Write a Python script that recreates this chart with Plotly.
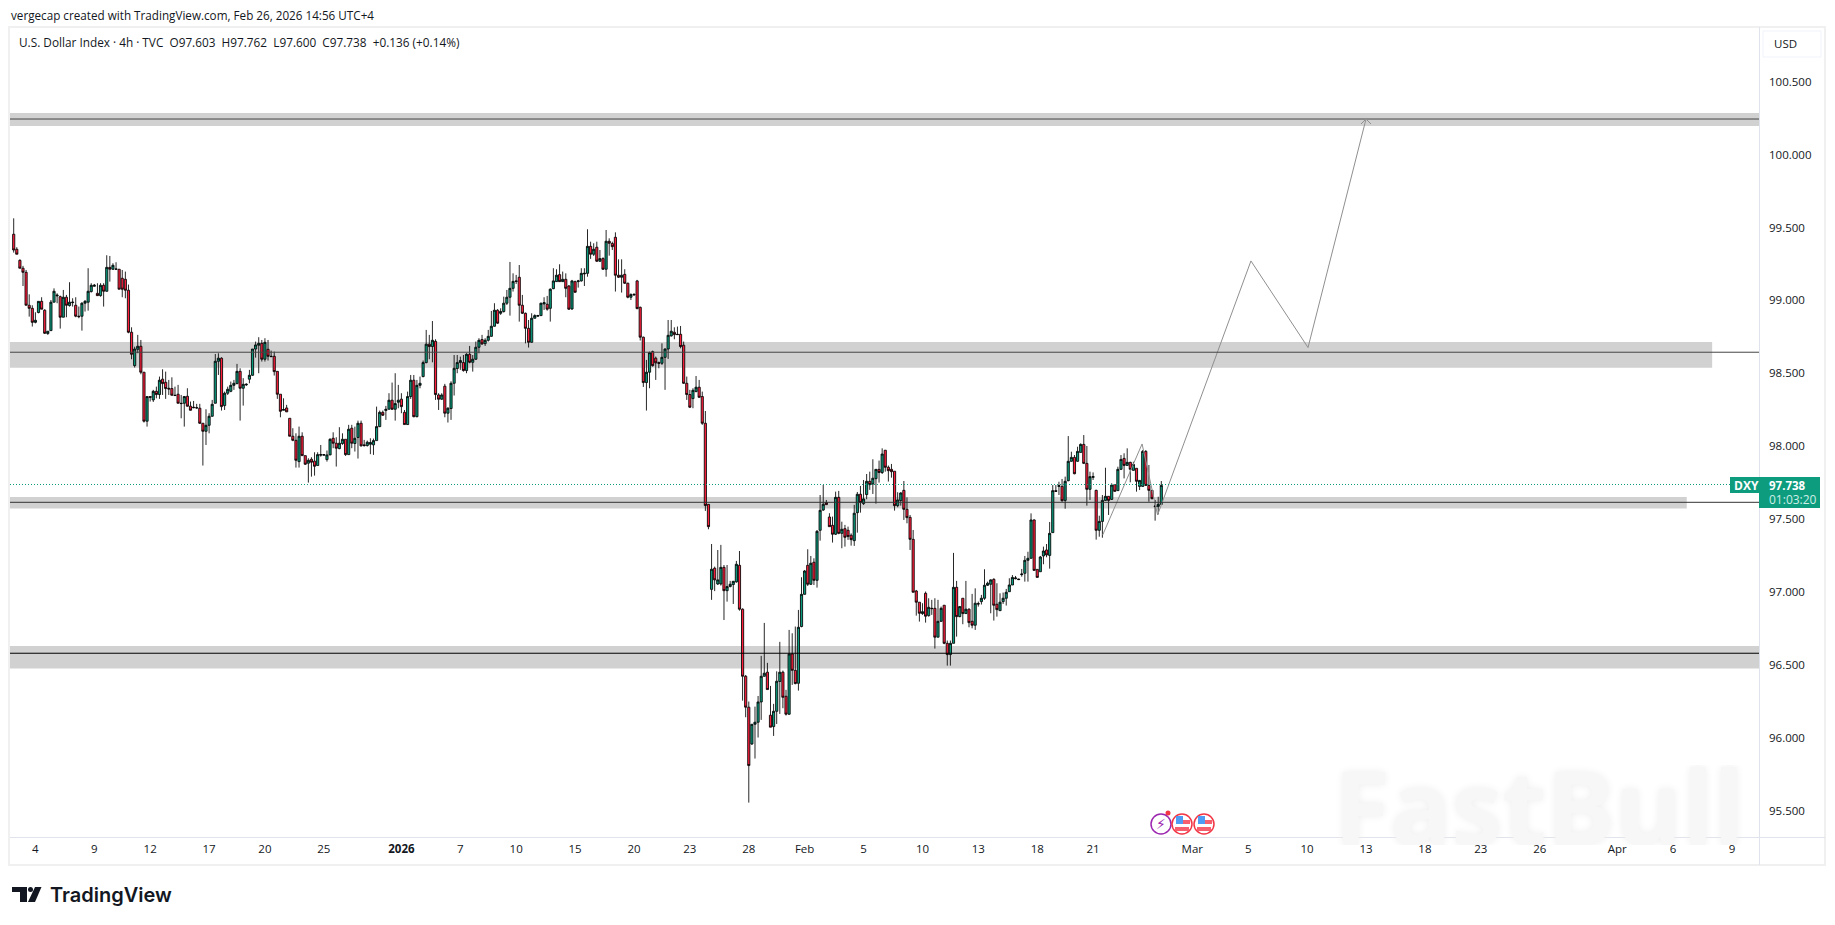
import plotly.graph_objects as go

W = 1835
H = 925

# 4h candles, oldest first
opens = [
    99.454, 99.351, 99.275, 99.221, 99.193, 98.967, 98.946, 98.850, 98.917, 98.994,
    98.933, 98.773, 98.793, 98.988, 99.031, 99.026, 98.885, 99.022, 98.965, 98.985,
    98.967, 98.892, 98.892, 98.981, 98.988, 99.061, 99.097, 99.049, 99.033, 99.104,
    99.063, 99.227, 99.214, 99.216, 99.214, 99.152, 99.145, 99.070, 98.782, 98.553,
    98.665, 98.686, 98.508, 98.172, 98.341, 98.318, 98.377, 98.355, 98.460, 98.439,
    98.398, 98.396, 98.350, 98.357, 98.295, 98.295, 98.343, 98.275, 98.268, 98.265,
    98.261, 98.158, 98.103, 98.144, 98.206, 98.295, 98.583, 98.604, 98.279, 98.364,
    98.377, 98.418, 98.430, 98.514, 98.398, 98.421, 98.460, 98.487, 98.667, 98.693,
    98.706, 98.597, 98.665, 98.617, 98.617, 98.514, 98.357, 98.247, 98.263, 98.192,
    98.069, 98.041, 97.895, 98.069, 97.936, 97.884, 97.911, 97.898, 97.868, 97.939,
    97.939, 97.909, 97.941, 98.055, 98.021, 97.984, 98.019, 98.048, 97.943, 98.124,
    98.019, 98.060, 98.158, 98.010, 98.005, 98.014, 98.010, 98.039, 98.135, 98.233,
    98.245, 98.254, 98.316, 98.254, 98.302, 98.323, 98.233, 98.149, 98.341, 98.453,
    98.203, 98.418, 98.478, 98.574, 98.700, 98.684, 98.720, 98.352, 98.323, 98.412,
    98.227, 98.259, 98.432, 98.533, 98.574, 98.574, 98.519, 98.631, 98.576, 98.597,
    98.679, 98.732, 98.704, 98.727, 98.754, 98.823, 98.933, 98.912, 98.924, 98.981,
    99.022, 99.083, 99.134, 99.159, 98.967, 98.912, 98.809, 98.713, 98.878, 98.892,
    98.896, 98.976, 98.974, 98.946, 99.081, 99.129, 99.177, 99.129, 99.145, 99.099,
    98.942, 99.129, 99.129, 99.134, 99.182, 99.186, 99.371, 99.317, 99.365, 99.269,
    99.287, 99.214, 99.406, 99.390, 99.433, 99.173, 99.159, 99.179, 99.118, 99.022,
    99.038, 99.134, 98.953, 98.748, 98.437, 98.508, 98.649, 98.604, 98.574, 98.569,
    98.610, 98.667, 98.757, 98.782, 98.768, 98.768, 98.693, 98.432, 98.355, 98.327,
    98.375, 98.405, 98.341, 98.158, 97.602, 97.019, 97.164, 97.056, 97.056, 97.170,
    97.010, 97.038, 97.052, 97.070, 97.184, 96.883, 96.423, 96.211, 95.959, 96.094,
    96.108, 96.247, 96.423, 96.451, 96.156, 96.078, 96.183, 96.387, 96.451, 96.286,
    96.163, 96.576, 96.464, 96.375, 96.764, 96.985, 97.184, 97.054, 97.205, 97.081,
    97.424, 97.563, 97.614, 97.515, 97.458, 97.397, 97.650, 97.403, 97.435, 97.424,
    97.390, 97.353, 97.545, 97.671, 97.607, 97.669, 97.760, 97.742, 97.778, 97.842,
    97.820, 97.973, 97.856, 97.842, 97.829, 97.593, 97.628, 97.698, 97.568, 97.513,
    97.362, 97.008, 96.931, 96.853, 96.992, 96.839, 96.889, 96.889, 96.691, 96.800,
    96.910, 96.649, 96.572, 96.649, 97.033, 96.832, 96.958, 96.853, 96.883, 96.800,
    96.773, 96.921, 96.935, 96.958, 97.047, 97.054, 97.088, 96.917, 96.873, 96.935,
    96.958, 97.003, 97.049, 97.092, 97.090, 97.120, 97.129, 97.218, 97.232, 97.495,
    97.156, 97.140, 97.248, 97.289, 97.252, 97.408, 97.696, 97.725, 97.725, 97.629,
    97.764, 97.897, 97.924, 97.897, 97.958, 98.013, 97.883, 97.705, 97.787, 97.698,
    97.424, 97.485, 97.629, 97.657, 97.636, 97.737, 97.696, 97.842, 97.917, 97.869,
    97.890, 97.835, 97.849, 97.725, 97.725, 97.965, 97.732, 97.698, 97.586, 97.588,
    97.602,
]
highs = [
    99.563, 99.365, 99.282, 99.237, 99.209, 99.042, 98.967, 98.919, 98.994, 99.022,
    98.940, 98.789, 99.003, 99.083, 99.049, 99.033, 99.072, 99.038, 99.125, 99.015,
    99.022, 98.958, 98.988, 99.003, 99.221, 99.118, 99.113, 99.118, 99.118, 99.118,
    99.310, 99.305, 99.255, 99.262, 99.214, 99.209, 99.198, 99.109, 98.816, 98.683,
    98.764, 98.729, 98.508, 98.341, 98.341, 98.387, 98.409, 98.478, 98.528, 98.512,
    98.455, 98.473, 98.409, 98.421, 98.352, 98.345, 98.398, 98.307, 98.311, 98.291,
    98.291, 98.158, 98.254, 98.227, 98.318, 98.633, 98.638, 98.610, 98.375, 98.409,
    98.444, 98.455, 98.565, 98.535, 98.467, 98.432, 98.524, 98.667, 98.718, 98.748,
    98.729, 98.741, 98.729, 98.656, 98.649, 98.514, 98.357, 98.329, 98.284, 98.192,
    98.124, 98.089, 98.135, 98.096, 97.936, 97.918, 97.925, 97.959, 97.959, 98.009,
    97.943, 97.971, 98.055, 98.096, 98.062, 98.131, 98.089, 98.048, 98.147, 98.147,
    98.135, 98.176, 98.176, 98.044, 98.039, 98.055, 98.053, 98.272, 98.245, 98.245,
    98.277, 98.364, 98.437, 98.501, 98.421, 98.364, 98.249, 98.375, 98.489, 98.489,
    98.455, 98.478, 98.588, 98.798, 98.764, 98.859, 98.734, 98.364, 98.364, 98.428,
    98.268, 98.446, 98.626, 98.626, 98.615, 98.626, 98.638, 98.688, 98.626, 98.718,
    98.741, 98.764, 98.741, 98.798, 98.928, 98.981, 98.940, 98.946, 99.026, 99.072,
    99.264, 99.186, 99.175, 99.243, 99.038, 98.917, 98.866, 98.912, 98.905, 98.901,
    98.985, 99.022, 99.031, 99.083, 99.221, 99.214, 99.248, 99.198, 99.186, 99.106,
    99.141, 99.136, 99.141, 99.221, 99.221, 99.488, 99.403, 99.392, 99.403, 99.346,
    99.296, 99.483, 99.426, 99.403, 99.467, 99.282, 99.282, 99.214, 99.122, 99.049,
    99.047, 99.141, 98.958, 98.752, 98.592, 98.649, 98.656, 98.615, 98.581, 98.706,
    98.672, 98.866, 98.866, 98.816, 98.821, 98.825, 98.718, 98.478, 98.387, 98.398,
    98.482, 98.455, 98.375, 98.242, 97.603, 97.330, 97.175, 97.289, 97.324, 97.186,
    97.186, 97.077, 97.077, 97.214, 97.282, 96.889, 96.432, 96.250, 96.094, 96.215,
    96.288, 96.563, 96.789, 96.515, 96.357, 96.234, 96.457, 96.659, 96.462, 96.330,
    96.741, 96.718, 96.764, 96.878, 97.102, 97.152, 97.294, 97.248, 97.232, 97.426,
    97.666, 97.735, 97.632, 97.541, 97.518, 97.689, 97.694, 97.483, 97.461, 97.449,
    97.403, 97.598, 97.687, 97.728, 97.769, 97.810, 97.826, 97.911, 97.842, 97.902,
    97.986, 97.973, 97.868, 97.879, 97.829, 97.685, 97.685, 97.762, 97.650, 97.529,
    97.426, 97.015, 96.931, 96.924, 97.004, 96.958, 96.947, 96.958, 96.947, 96.901,
    96.910, 96.668, 96.668, 97.269, 97.077, 96.905, 96.958, 97.077, 96.889, 96.988,
    97.026, 96.935, 96.981, 97.157, 97.072, 97.088, 97.095, 97.061, 96.992, 96.997,
    97.022, 97.095, 97.117, 97.111, 97.092, 97.159, 97.248, 97.277, 97.540, 97.499,
    97.156, 97.248, 97.312, 97.330, 97.481, 97.734, 97.734, 97.757, 97.776, 97.792,
    98.070, 97.963, 97.940, 97.997, 98.020, 98.077, 98.002, 97.826, 97.821, 97.702,
    97.524, 97.666, 97.853, 97.657, 97.746, 97.737, 97.860, 97.940, 97.952, 97.986,
    97.894, 97.894, 97.849, 97.769, 97.974, 97.974, 97.872, 97.700, 97.632, 97.654,
    97.762,
]
lows = [
    99.328, 99.317, 99.221, 99.099, 98.967, 98.889, 98.821, 98.843, 98.912, 98.940,
    98.770, 98.764, 98.793, 98.988, 98.981, 98.807, 98.885, 98.885, 98.958, 98.958,
    98.885, 98.878, 98.793, 98.924, 98.930, 99.054, 99.095, 99.031, 99.026, 98.958,
    99.061, 99.129, 99.209, 99.214, 99.077, 99.022, 99.015, 98.775, 98.597, 98.540,
    98.638, 98.494, 98.163, 98.135, 98.307, 98.304, 98.329, 98.325, 98.352, 98.325,
    98.352, 98.348, 98.348, 98.295, 98.192, 98.135, 98.272, 98.245, 98.261, 98.259,
    98.153, 97.868, 98.009, 98.089, 98.203, 98.295, 98.489, 98.245, 98.249, 98.352,
    98.371, 98.387, 98.425, 98.176, 98.279, 98.414, 98.432, 98.483, 98.608, 98.501,
    98.581, 98.581, 98.588, 98.615, 98.485, 98.325, 98.199, 98.247, 98.236, 98.069,
    98.035, 97.854, 97.854, 97.936, 97.872, 97.751, 97.792, 97.799, 97.868, 97.929,
    97.936, 97.895, 97.939, 97.987, 97.861, 97.980, 98.010, 97.934, 97.941, 97.987,
    97.964, 97.916, 97.998, 97.998, 97.998, 97.946, 97.941, 98.039, 98.131, 98.208,
    98.181, 98.254, 98.249, 98.176, 98.261, 98.227, 98.149, 98.147, 98.325, 98.199,
    98.199, 98.398, 98.473, 98.569, 98.597, 98.576, 98.318, 98.249, 98.318, 98.199,
    98.163, 98.181, 98.348, 98.501, 98.524, 98.512, 98.501, 98.569, 98.512, 98.592,
    98.638, 98.695, 98.688, 98.718, 98.752, 98.821, 98.839, 98.901, 98.917, 98.969,
    98.896, 99.061, 99.113, 98.855, 98.907, 98.706, 98.677, 98.711, 98.876, 98.889,
    98.894, 98.935, 98.930, 98.855, 99.077, 99.127, 99.127, 99.127, 99.022, 98.935,
    98.935, 99.054, 99.088, 99.129, 99.099, 99.163, 99.285, 99.305, 99.264, 99.264,
    99.209, 99.163, 99.307, 99.346, 99.061, 99.154, 99.054, 99.113, 99.015, 99.003,
    99.031, 98.940, 98.725, 98.407, 98.245, 98.398, 98.546, 98.455, 98.535, 98.558,
    98.387, 98.599, 98.752, 98.734, 98.764, 98.672, 98.428, 98.318, 98.263, 98.261,
    98.371, 98.332, 98.147, 97.557, 97.431, 96.947, 97.007, 97.049, 97.045, 96.809,
    96.935, 97.033, 96.919, 97.065, 96.873, 96.256, 96.142, 95.557, 95.952, 95.859,
    96.003, 96.124, 96.421, 96.332, 96.074, 96.014, 96.096, 96.165, 96.204, 96.154,
    96.158, 96.364, 96.368, 96.325, 96.759, 96.983, 97.042, 97.049, 97.049, 97.031,
    97.353, 97.557, 97.600, 97.449, 97.340, 97.392, 97.397, 97.301, 97.312, 97.358,
    97.319, 97.317, 97.408, 97.545, 97.598, 97.637, 97.701, 97.673, 97.607, 97.751,
    97.810, 97.826, 97.758, 97.785, 97.559, 97.582, 97.593, 97.495, 97.472, 97.289,
    96.999, 96.839, 96.798, 96.844, 96.791, 96.832, 96.844, 96.613, 96.691, 96.796,
    96.643, 96.496, 96.496, 96.649, 96.695, 96.828, 96.780, 96.851, 96.759, 96.752,
    96.741, 96.901, 96.915, 96.947, 97.042, 96.855, 96.805, 96.832, 96.871, 96.919,
    96.908, 97.003, 97.049, 97.088, 97.083, 97.106, 97.072, 97.072, 97.232, 97.149,
    97.101, 97.140, 97.191, 97.239, 97.161, 97.408, 97.691, 97.666, 97.620, 97.572,
    97.760, 97.894, 97.808, 97.894, 97.958, 97.878, 97.593, 97.632, 97.769, 97.360,
    97.380, 97.373, 97.632, 97.529, 97.632, 97.689, 97.696, 97.837, 97.780, 97.867,
    97.753, 97.833, 97.689, 97.700, 97.723, 97.728, 97.620, 97.636, 97.490, 97.533,
    97.600,
]
closes = [
    99.346, 99.317, 99.221, 99.193, 98.967, 98.946, 98.850, 98.864, 98.994, 98.940,
    98.775, 98.789, 98.988, 99.063, 99.036, 98.885, 99.022, 98.967, 98.988, 98.988,
    98.892, 98.889, 98.981, 98.994, 99.063, 99.104, 99.104, 99.033, 99.104, 99.063,
    99.227, 99.214, 99.241, 99.214, 99.077, 99.077, 99.070, 98.782, 98.631, 98.667,
    98.686, 98.508, 98.172, 98.341, 98.336, 98.377, 98.355, 98.453, 98.430, 98.396,
    98.393, 98.350, 98.348, 98.295, 98.293, 98.341, 98.275, 98.247, 98.265, 98.263,
    98.158, 98.103, 98.144, 98.206, 98.288, 98.583, 98.604, 98.272, 98.364, 98.391,
    98.418, 98.432, 98.514, 98.398, 98.425, 98.425, 98.487, 98.667, 98.695, 98.706,
    98.597, 98.713, 98.617, 98.615, 98.512, 98.357, 98.240, 98.252, 98.236, 98.069,
    98.041, 97.904, 98.069, 97.936, 97.877, 97.904, 97.891, 97.863, 97.943, 97.943,
    97.943, 97.941, 98.048, 98.021, 97.987, 98.021, 98.048, 97.943, 98.117, 98.021,
    98.055, 98.158, 98.003, 98.005, 98.028, 98.026, 98.039, 98.135, 98.233, 98.213,
    98.254, 98.316, 98.254, 98.293, 98.316, 98.272, 98.149, 98.341, 98.453, 98.203,
    98.418, 98.432, 98.574, 98.700, 98.684, 98.727, 98.355, 98.323, 98.352, 98.227,
    98.261, 98.432, 98.535, 98.574, 98.588, 98.519, 98.631, 98.576, 98.597, 98.679,
    98.727, 98.702, 98.727, 98.754, 98.823, 98.933, 98.844, 98.924, 98.981, 99.022,
    99.083, 99.131, 99.131, 98.967, 98.912, 98.809, 98.713, 98.878, 98.896, 98.896,
    98.981, 98.985, 98.940, 99.077, 99.134, 99.173, 99.129, 99.145, 99.083, 98.940,
    99.134, 99.056, 99.134, 99.186, 99.186, 99.371, 99.317, 99.351, 99.269, 99.287,
    99.214, 99.406, 99.392, 99.369, 99.173, 99.159, 99.173, 99.118, 99.022, 99.040,
    99.042, 98.944, 98.748, 98.437, 98.508, 98.642, 98.553, 98.572, 98.569, 98.610,
    98.667, 98.761, 98.789, 98.766, 98.766, 98.684, 98.432, 98.355, 98.268, 98.384,
    98.405, 98.336, 98.158, 97.594, 97.449, 97.157, 97.084, 97.084, 97.170, 97.010,
    97.038, 97.054, 97.074, 97.191, 96.883, 96.423, 96.211, 95.811, 96.094, 96.108,
    96.247, 96.423, 96.444, 96.332, 96.074, 96.183, 96.389, 96.451, 96.279, 96.163,
    96.576, 96.464, 96.373, 96.759, 96.985, 97.145, 97.054, 97.198, 97.081, 97.417,
    97.561, 97.602, 97.600, 97.449, 97.397, 97.650, 97.403, 97.431, 97.376, 97.381,
    97.360, 97.541, 97.671, 97.614, 97.639, 97.760, 97.737, 97.781, 97.842, 97.820,
    97.947, 97.856, 97.833, 97.826, 97.593, 97.632, 97.680, 97.568, 97.511, 97.362,
    96.999, 96.931, 96.855, 96.866, 96.835, 96.896, 96.887, 96.691, 96.800, 96.889,
    96.649, 96.572, 96.649, 97.033, 96.832, 96.901, 96.853, 96.883, 96.791, 96.773,
    96.924, 96.919, 96.958, 97.047, 97.061, 97.084, 96.910, 96.880, 96.931, 96.958,
    96.999, 97.049, 97.101, 97.097, 97.086, 97.124, 97.218, 97.232, 97.495, 97.149,
    97.101, 97.241, 97.282, 97.255, 97.403, 97.696, 97.691, 97.730, 97.627, 97.760,
    97.897, 97.924, 97.812, 97.965, 98.013, 97.883, 97.705, 97.792, 97.792, 97.424,
    97.485, 97.629, 97.657, 97.629, 97.734, 97.691, 97.842, 97.910, 97.869, 97.890,
    97.842, 97.876, 97.760, 97.766, 97.965, 97.732, 97.698, 97.641, 97.590, 97.602,
    97.732,
]
bar_index = list(range(len(closes)))

# axis
price_ticks = [100.5, 100.0, 99.5, 99.0, 98.5, 98.0, 97.5, 97.0, 96.5, 96.0, 95.5]
date_ticks = [7, 26, 44, 63, 81, 100, 125, 144, 162, 181, 200, 218, 237, 255, 274,
              293, 311, 330, 348, 380, 398, 417, 436, 455, 473, 492, 517, 535, 554]
date_labels = ["4", "9", "12", "17", "20", "25", "<b>2026</b>", "7", "10", "15", "20",
               "23", "28", "Feb", "5", "10", "13", "18", "21", "Mar", "5", "10", "13",
               "18", "23", "26", "Apr", "6", "9"]

# drawings: zones are low, high, line, end bar
zone_low = [100.196, 98.539, 97.573, 96.476]
zone_high = [100.285, 98.715, 97.653, 96.631]
zone_line = [100.244, 98.645, 97.616, 96.581]
zone_end = [562.7, 547.6, 539.4, 562.7]
line_color = ["#444444", "#444444", "#333333", "#000000"]
path_x = [351.1, 363.8, 368.8, 398.9, 417.3, 436.0]
path_y = [97.392, 98.016, 97.529, 99.271, 98.677, 100.244]
last_price = 97.738

X_MIN, X_MAX = -1.19, 562.7
Y_MIN, Y_MAX = 95.321, 100.875
TEAL = "#0e9c7f"
RED = "#ff1f3d"
GREEN = "#0a9a7d"
TEXT = "#131722"
FONT = "Open Sans"


def px(x, y):
    return x / W, 1 - y / H


def rect(x0, y0, x1, y1, fill=None, line=None, width=1, kind="rect"):
    a, b = px(x0, y0)
    c, d = px(x1, y1)
    return dict(type=kind, xref="paper", yref="paper", x0=a, y0=b, x1=c, y1=d,
                fillcolor=fill, line=dict(color=line, width=width if line else 0), layer="above")


def label(x, y, text, size=12, color=TEXT, anchor="left", family=FONT, weight=None):
    a, b = px(x, y)
    return dict(xref="paper", yref="paper", x=a, y=b, text=text, showarrow=False, xanchor=anchor,
                yanchor="middle", font=dict(family=family, size=size, color=color, weight=weight), borderpad=0)


fig = go.Figure()

fig.add_trace(go.Candlestick(
    x=bar_index, open=opens, high=highs, low=lows, close=closes,
    increasing=dict(line=dict(color="#000000", width=0.85), fillcolor=GREEN),
    decreasing=dict(line=dict(color="#000000", width=0.85), fillcolor=RED),
    whiskerwidth=0, showlegend=False, hoverinfo="skip",
))

# projected path
fig.add_trace(go.Scatter(x=path_x, y=path_y, mode="lines", showlegend=False, hoverinfo="skip",
                         line=dict(color="#8f8f8f", width=1)))

shapes = []
for i in range(len(zone_low)):
    shapes.append(dict(type="rect", xref="x", yref="y", x0=X_MIN, x1=zone_end[i],
                       y0=zone_low[i], y1=zone_high[i], fillcolor="#d1d1d1",
                       line=dict(width=0), layer="below"))
    shapes.append(dict(type="line", xref="x", yref="y", x0=X_MIN, x1=X_MAX,
                       y0=zone_line[i], y1=zone_line[i],
                       line=dict(color=line_color[i], width=1), layer="above"))
shapes.append(dict(type="line", xref="x", yref="y", x0=X_MIN, x1=X_MAX, y0=last_price, y1=last_price,
                   line=dict(color=TEAL, width=1, dash="1px,2px"), layer="above"))

# arrow head of the path
hx0, hy0 = px(1361, 124)
hx1, hy1 = px(1366, 119)
hx2, hy2 = px(1371, 124)
shapes.append(dict(type="path", xref="paper", yref="paper", layer="above",
                   path=f"M {hx0} {hy0} L {hx1} {hy1} L {hx2} {hy2}",
                   line=dict(color="#8f8f8f", width=1)))

# frame and axis separators
shapes.append(rect(9, 27, 1825, 865, None, "#f0f0f0", 2))
shapes.append(rect(1759, 27, 1760, 865, "#e0e3eb"))
shapes.append(rect(10, 837, 1825, 838, "#e0e3eb"))
shapes.append(rect(1763, 31, 1821, 57, "#ffffff", "#f0f3fa", 1))

# price tag
shapes.append(rect(1730, 477, 1759, 493, TEAL))
shapes.append(rect(1759, 477, 1820, 508, TEAL))

# event icons
shapes.append(rect(1151, 814, 1171, 834, "#ffffff", "#9c27b0", 1.5, "circle"))
for cx in [1182, 1204]:
    shapes.append(rect(cx - 10, 814, cx + 10, 834, "#ffffff", "#f23645", 1.5, "circle"))
    shapes.append(rect(cx - 6, 816, cx + 1, 824, "#4f9cf5"))
    shapes.append(rect(cx + 1, 820, cx + 8, 824, "#f6606e"))
    shapes.append(rect(cx - 7, 827, cx + 7, 831, "#f6606e"))
shapes.append(rect(1165.5, 810.5, 1170.5, 815.5, "#f23645", None, 0, "circle"))

# TradingView mark
a0, b0 = px(12, 887)
a1, b1 = px(27, 887)
a2, b2 = px(27, 902)
a3, b3 = px(20, 902)
a4, b4 = px(20, 892)
a5, b5 = px(12, 892)
shapes.append(dict(type="path", xref="paper", yref="paper", fillcolor="#131722", line=dict(width=0),
                   path=f"M {a0} {b0} L {a1} {b1} L {a2} {b2} L {a3} {b3} L {a4} {b4} L {a5} {b5} Z"))
a0, b0 = px(35, 887)
a1, b1 = px(41.5, 887)
a2, b2 = px(35, 902)
a3, b3 = px(28, 902)
shapes.append(dict(type="path", xref="paper", yref="paper", fillcolor="#131722", line=dict(width=0),
                   path=f"M {a0} {b0} L {a1} {b1} L {a2} {b2} L {a3} {b3} Z"))
shapes.append(rect(28, 887, 33, 892, "#131722", None, 0, "circle"))

annotations = [
    label(10, 15, "vergecap created with TradingView.com, Feb 26, 2026 14:56 UTC+4", 11.7),
    label(18, 42, "U.S. Dollar Index · 4h · TVC  O97.603  H97.762  L97.600  C97.738  +0.136 (+0.14%)", 11.8),
    label(1773, 44, "USD", 11.5),
    label(1733, 485, "<b>DXY</b>", 12, "#ffffff"),
    label(1768, 485, "<b>97.738</b>", 11.5, "#ffffff"),
    label(1768, 499, "01:03:20", 12, "#cfeee6"),
    label(1161, 824, "⚡", 14, "#9c27b0", "center", "DejaVu Sans"),
    label(49, 895, "TradingView", 20, "#131722", "left", "Inter", 600),
]
wm_x, wm_y = px(1539, 805)
# box kept to the letter height so it stays clear of the date labels
annotations.append(dict(xref="paper", yref="paper", x=wm_x, y=wm_y, text="<b>FastBull</b>", showarrow=False,
                        xanchor="center", yanchor="middle", height=80,
                        font=dict(family="Open Sans", size=102, color="#f7f7f7", shadow="0 0 8px #eeeeee")))

fig.update_layout(
    width=W, height=H,
    margin=dict(l=0, r=0, t=0, b=0),
    paper_bgcolor="#ffffff", plot_bgcolor="#ffffff",
    showlegend=False,
    boxgap=0,
    shapes=shapes, annotations=annotations,
    font=dict(family=FONT, size=12, color=TEXT),
    xaxis=dict(domain=[10 / W, 1759 / W], range=[X_MIN, X_MAX], rangeslider=dict(visible=False),
               tickmode="array", tickvals=date_ticks, ticktext=date_labels, tickangle=0,
               showgrid=False, zeroline=False, showline=False, ticks="", ticklabelstandoff=3,
               tickfont=dict(family=FONT, size=11.5, color=TEXT)),
    yaxis=dict(domain=[1 - 837 / H, 1 - 27 / H], range=[Y_MIN, Y_MAX], side="right",
               tickmode="array", tickvals=price_ticks, ticktext=[f"{t:.3f}" for t in price_ticks],
               showgrid=False, zeroline=False, showline=False, ticks="", ticklabelstandoff=9,
               tickfont=dict(family=FONT, size=11.5, color=TEXT)),
)

fig.write_html("out.html", config=dict(displayModeBar=False),
               post_script="document.body.style.margin='0';document.body.style.overflow='hidden';")
